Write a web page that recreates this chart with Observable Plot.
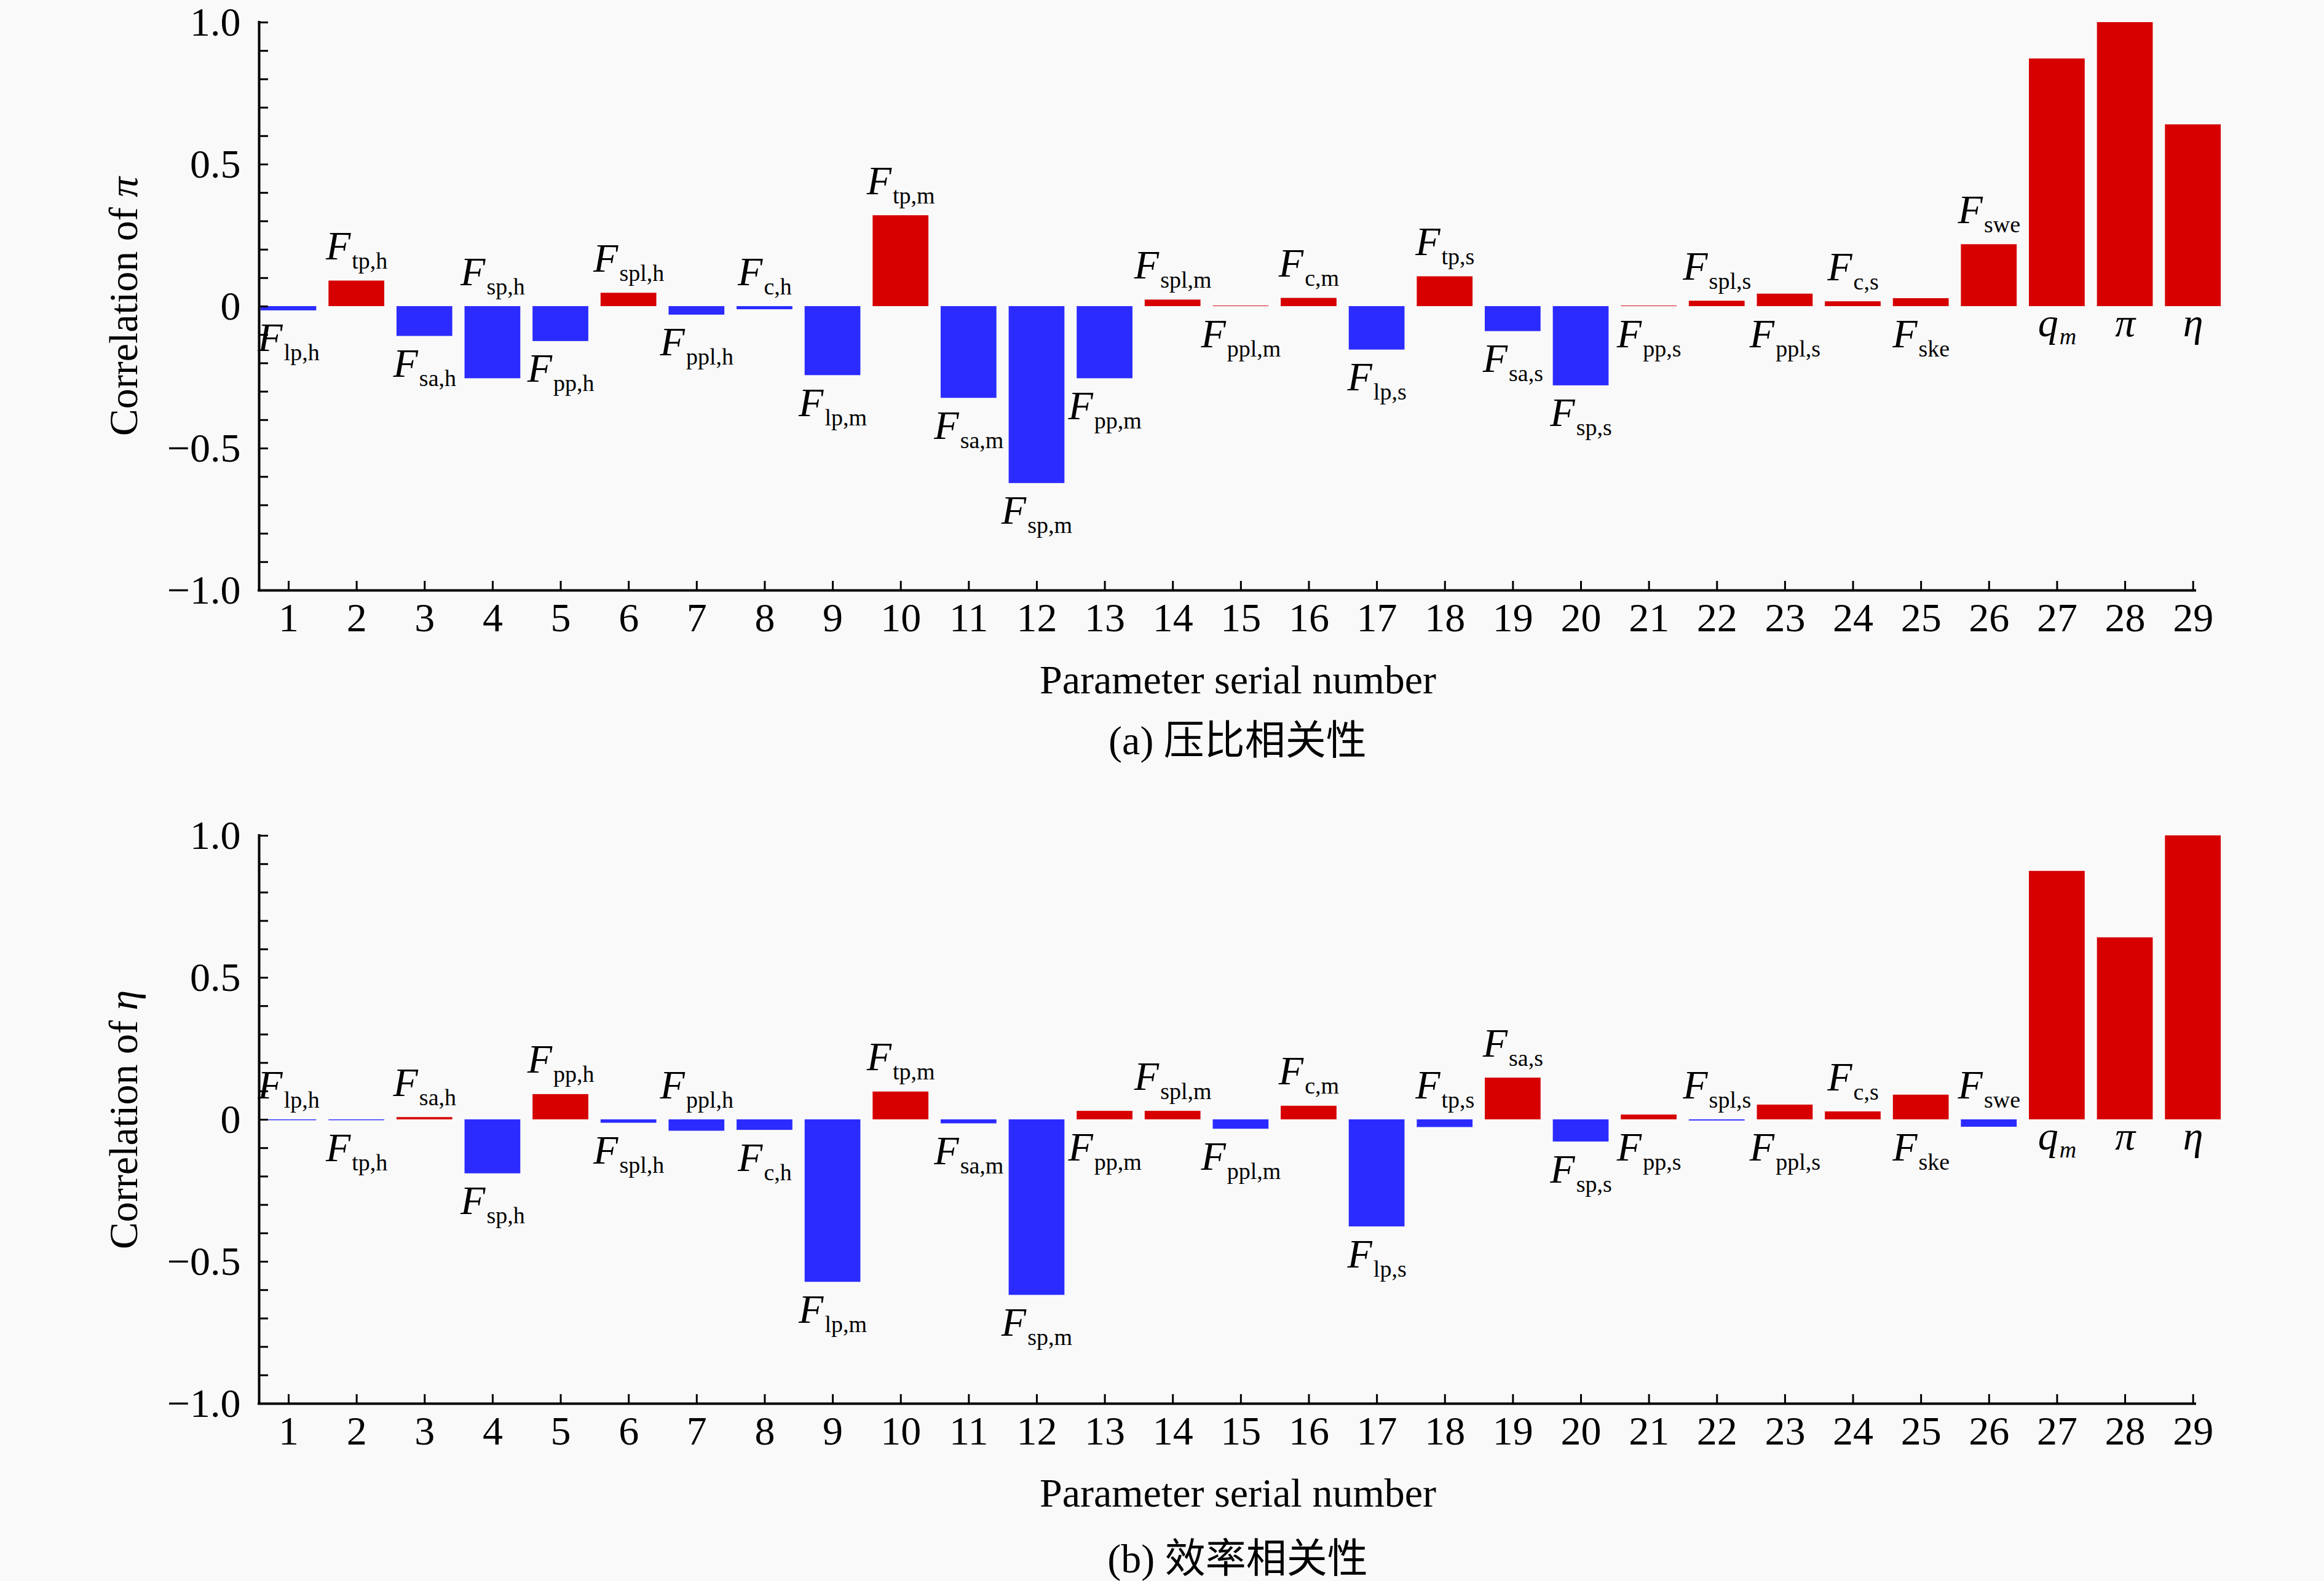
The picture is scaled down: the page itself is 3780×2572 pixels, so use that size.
<!DOCTYPE html>
<html>
<head>
<meta charset="utf-8">
<script src="https://cdn.jsdelivr.net/npm/d3@7"></script>
<script src="https://cdn.jsdelivr.net/npm/@observablehq/plot@0.6"></script>
<style>
  html, body { margin: 0; padding: 0; background: #f9f9f9; }
  .cap { width: 3780px; box-sizing: border-box; text-align: center; padding-left: 246px;
         font-family: "Liberation Serif", "Noto Sans CJK SC", serif; font-size: 66px; line-height: 66px; color: #000; }
</style>
</head>
<body>
<div id="root"></div>
<script>
// ---------- data ----------
const serial = [1,2,3,4,5,6,7,8,9,10,11,12,13,14,15,16,17,18,19,20,21,22,23,24,25,26,27,28,29];
const labelMain = ["F","F","F","F","F","F","F","F","F","F","F","F","F","F","F","F","F","F","F","F","F","F","F","F","F","F","q","π","η"];
const labelSub = ["lp,h","tp,h","sa,h","sp,h","pp,h","spl,h","ppl,h","c,h",
                  "lp,m","tp,m","sa,m","sp,m","pp,m","spl,m","ppl,m","c,m",
                  "lp,s","tp,s","sa,s","sp,s","pp,s","spl,s","ppl,s","c,s",
                  "ske","swe","m","",""];
// (a) correlation of π
const corrPi = [-0.015, 0.09, -0.105, -0.254, -0.123, 0.047, -0.03, -0.011,
                -0.243, 0.32, -0.323, -0.623, -0.254, 0.023, 0.002, 0.029,
                -0.153, 0.105, -0.088, -0.279, 0.002, 0.019, 0.044, 0.017,
                0.028, 0.218, 0.872, 1.0, 0.64];
const sidePi = ["down","up","down","up","down","up","down","up",
                "down","up","down","down","down","up","down","up",
                "down","up","down","down","down","up","down","up",
                "down","up","down","down","down"];
// (b) correlation of η
const corrEta = [-0.003, -0.003, 0.008, -0.19, 0.089, -0.012, -0.04, -0.037,
                 -0.572, 0.098, -0.014, -0.618, 0.03, 0.03, -0.033, 0.048,
                 -0.377, -0.027, 0.147, -0.078, 0.017, -0.004, 0.052, 0.028,
                 0.087, -0.026, 0.875, 0.641, 1.0];
const sideEta = ["up","down","up","down","up","down","up","down",
                 "down","up","down","down","down","up","down","up",
                 "down","up","up","down","down","up","down","up",
                 "down","up","down","down","down"];
const yMajor = [-1, -0.5, 0, 0.5, 1];
const yMinor = [-1,-0.9,-0.8,-0.7,-0.6,-0.5,-0.4,-0.3,-0.2,-0.1,0,0.1,0.2,0.3,0.4,0.5,0.6,0.7,0.8,0.9,1];
const xTitle = "Parameter serial number";
const yTitles = ["Correlation of π", "Correlation of η"];
const captions = ["(a) 压比相关性", "(b) 效率相关性"];

// ---------- style ----------
const RED = "#d60000", BLUE = "#2b2bff";
const FONT = "'Liberation Serif', 'Times New Roman', serif";
const xDomain = [0.566, 29.03];
const yDomain = [-1, 1];
const barHalf = 0.41;

function fmtY(d) {
  if (d === 0) return "0";
  return d.toFixed(1).replace("-", "\u2212");
}

function panel(values, sides, yTitle, marginTop, height, marginBottom) {
  const data = serial.map((s, i) => ({s, v: values[i], main: labelMain[i], sub: labelSub[i], side: sides[i]}));
  const svg = Plot.plot({
    width: 3780, height, marginTop, marginBottom, marginLeft: 421, marginRight: 210,
    style: {fontFamily: FONT, fontSize: "66px", background: "#f9f9f9", color: "#000", display: "block", overflow: "visible"},
    x: {type: "linear", domain: xDomain, axis: null},
    y: {type: "linear", domain: yDomain, axis: null},
    marks: [
      Plot.rect(data, {x1: d => d.s - barHalf, x2: d => d.s + barHalf, y1: () => 0, y2: d => d.v,
                       fill: d => d.v >= 0 ? RED : BLUE}),
      // axis lines
      Plot.ruleY([yDomain[0]], {stroke: "#000", strokeWidth: 4, strokeLinecap: "square"}),
      Plot.ruleX([xDomain[0]], {stroke: "#000", strokeWidth: 4, strokeLinecap: "square"}),
      // inward ticks
      Plot.axisX({ticks: serial, tickSize: -15, strokeWidth: 3, tickFormat: () => "", label: null}),
      Plot.axisY({ticks: yMinor, tickSize: -15, strokeWidth: 3, tickFormat: () => "", label: null}),
      // tick labels
      Plot.axisX({ticks: serial, tickSize: 0, tickPadding: 20, tickFormat: d => String(d), fontSize: 66, label: null}),
      Plot.axisY({ticks: yMajor, tickSize: 0, tickPadding: 30, tickFormat: fmtY, fontSize: 66, label: null}),
      // axis titles
      Plot.text([xTitle], {text: d => d, frameAnchor: "bottom", dx: 17.5, dy: 167, lineAnchor: "bottom", fontSize: 66}),
      Plot.text([yTitle], {text: d => d, frameAnchor: "left", textAnchor: "middle", rotate: -90, dx: -199,
                           lineAnchor: "bottom", fontSize: 66, className: "ytitle"}),
      // bar labels
      Plot.text(data.filter(d => d.side === "up"), {x: "s", y: d => Math.max(d.v, 0), text: d => d.main + "|" + d.sub,
                dy: -35, lineAnchor: "bottom", fontSize: 66, className: "barlabel"}),
      Plot.text(data.filter(d => d.side === "down"), {x: "s", y: d => Math.min(d.v, 0), text: d => d.main + "|" + d.sub,
                dy: 66, lineAnchor: "bottom", fontSize: 66, className: "barlabel"})
    ]
  });
  const root = d3.select(svg);
  root.selectAll(".barlabel text").each(function () {
    const [main, sub] = this.textContent.split("|");
    const t = d3.select(this);
    t.text(null);
    const m = t.append("tspan").attr("font-style", "italic").text(main);
    if (main !== "F") m.attr("dy", -18);
    if (sub) {
      t.append("tspan")
        .attr("font-size", 38)
        .attr("dy", main === "F" ? 15 : 13)
        .attr("dx", 2)
        .attr("font-style", main === "q" ? "italic" : "normal")
        .text(sub);
    }
  });
  root.selectAll(".ytitle text").each(function () {
    const s = this.textContent;
    const t = d3.select(this);
    t.text(null);
    t.append("tspan").text(s.slice(0, -1));
    t.append("tspan").attr("font-style", "italic").text(s.slice(-1));
  });
  return svg;
}

const rootEl = document.getElementById("root");
rootEl.appendChild(panel(corrPi, sidePi, yTitles[0], 36, 1150, 190));
const c1 = document.createElement("div");
c1.className = "cap"; c1.style.height = "100px"; c1.style.paddingTop = "22px";
c1.textContent = captions[0];
rootEl.appendChild(c1);
rootEl.appendChild(panel(corrEta, sideEta, yTitles[1], 109, 1215, 182));
const c2 = document.createElement("div");
c2.className = "cap"; c2.style.height = "107px"; c2.style.paddingTop = "38px";
c2.textContent = captions[1];
rootEl.appendChild(c2);
</script>
</body>
</html>
